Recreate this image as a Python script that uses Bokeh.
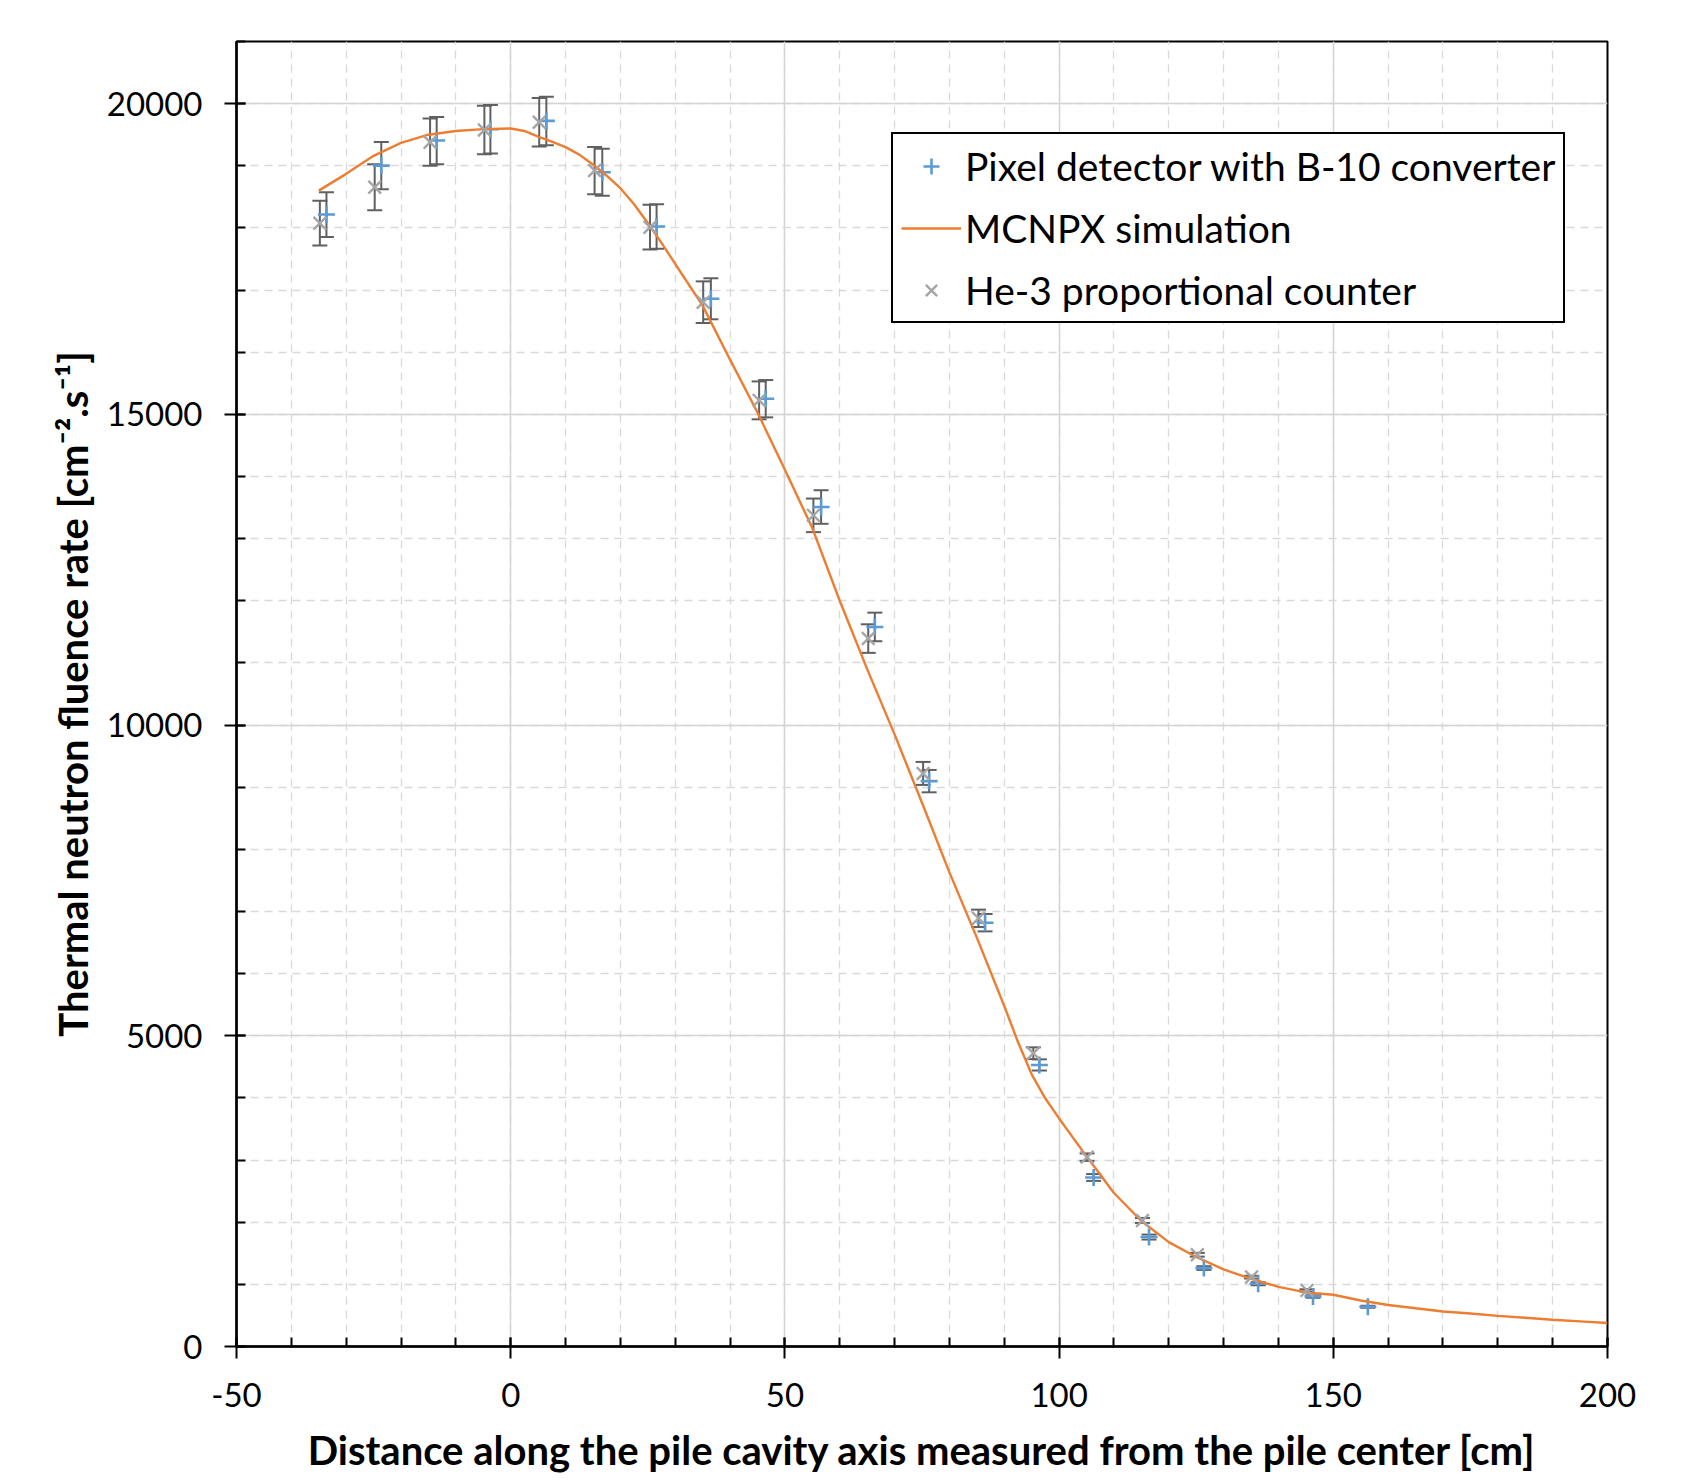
from bokeh.plotting import figure
from bokeh.models import (ColumnDataSource, Whisker, TeeHead, Legend, LegendItem,
                          SingleIntervalTicker, PrintfTickFormatter)
from bokeh.embed import file_html
from bokeh.resources import INLINE

# ---- data ----
pixel_x = [-33.6, -23.6, -13.5, -3.7, 6.5, 16.7, 26.6, 36.5, 46.5, 56.6,
           66.4, 76.3, 86.5, 96.4, 106.3, 116.4, 126.4, 136.3, 146.3, 156.3]
pixel_y = [18215, 19003, 19406, 19587, 19722, 18896, 18023, 16860, 15252, 13509,
           11579, 9098, 6820, 4531, 2720, 1761, 1262, 1010, 806, 640]
pixel_err = [360, 380, 380, 390, 390, 380, 360, 330, 300, 270,
             230, 180, 140, 90, 55, 40, 30, 25, 20, 15]

he3_x = [-34.8, -24.8, -14.7, -4.8, 5.2, 15.3, 25.4, 35.1, 45.3, 55.2,
         65.2, 75.2, 85.3, 95.3, 105.1, 115.2, 125.2, 135.1, 145.2]
he3_y = [18076, 18655, 19379, 19577, 19700, 18923, 18011, 16805, 15225, 13375,
         11392, 9222, 6890, 4719, 3047, 2028, 1476, 1117, 903]
he3_err = [360, 370, 380, 390, 390, 380, 360, 335, 305, 270,
           230, 185, 140, 95, 60, 40, 30, 22, 18]

sim_x = [-35, -30, -25, -20, -15, -10, -5, 0, 2.5, 5, 7.5, 10, 12.5, 15, 17.5, 20,
         22.5, 25, 27.5, 30, 35, 40, 45, 50, 55, 60, 65, 70, 75, 80, 85, 90, 92.5,
         95, 97.5, 100, 105, 110, 115, 120, 125, 130, 135, 140, 145, 150, 155, 160,
         165, 170, 175, 180, 185, 190, 195, 200]
sim_y = [18600, 18870, 19160, 19370, 19500, 19560, 19590, 19600, 19560, 19470,
         19390, 19300, 19180, 19020, 18840, 18640, 18380, 18080, 17760, 17420,
         16750, 15880, 15030, 14110, 13170, 12000, 10900, 9850, 8750, 7630, 6580,
         5480, 4900, 4380, 3990, 3670, 3060, 2470, 2020, 1680, 1440, 1240, 1090,
         960, 870, 833, 740, 668, 615, 564, 530, 493, 462, 431, 405, 378]

x_ticks_interval = 50
y_ticks_interval = 5000

BLUE = "#5B9BD5"
ORANGE = "#ED7D31"
GRAY = "#A5A5A5"
BAR = "#606060"
FONT = "Lato"

p = figure(width=1668, height=1476, output_backend="svg", toolbar_location=None,
           x_range=(-50, 200), y_range=(0, 21000),
           min_border_left=236, min_border_right=61, min_border_top=41, min_border_bottom=129)
p.background_fill_color = "white"
p.border_fill_color = "white"
p.outline_line_color = "black"
p.outline_line_width = 2

# axes
p.xaxis.ticker = SingleIntervalTicker(interval=x_ticks_interval, num_minor_ticks=5)
p.yaxis.ticker = SingleIntervalTicker(interval=y_ticks_interval, num_minor_ticks=5)
p.xaxis.formatter = PrintfTickFormatter(format="%d")
p.yaxis.formatter = PrintfTickFormatter(format="%d")
for ax in (p.xaxis, p.yaxis):
    ax.axis_line_width = 2.5
    ax.axis_line_color = "black"
    ax.major_tick_line_width = 2
    ax.minor_tick_line_width = 2
    ax.major_tick_line_color = "black"
    ax.minor_tick_line_color = "black"
    ax.major_tick_in = 9
    ax.major_tick_out = 12
    ax.minor_tick_in = 9
    ax.minor_tick_out = 0
    ax.major_label_text_font = FONT
    ax.major_label_text_font_size = "33px"
    ax.major_label_text_color = "black"
    ax.axis_label_text_font = FONT
    ax.axis_label_text_font_style = "bold"
    ax.axis_label_text_font_size = "40px"
    ax.axis_label_text_color = "black"
p.xaxis.major_label_standoff = 24
p.yaxis.major_label_standoff = 22
p.xaxis.axis_label = "Distance along the pile cavity axis measured from the pile center [cm]"
p.yaxis.axis_label = "Thermal neutron fluence rate [cm⁻².s⁻¹]"
p.xaxis.axis_label_standoff = 16
p.yaxis.axis_label_standoff = 7

# grids
for g in (p.xgrid, p.ygrid):
    g.grid_line_color = "#D4D4D4"
    g.grid_line_width = 1.5
    g.minor_grid_line_color = "#D9D9D9"
    g.minor_grid_line_width = 1.3
    g.minor_grid_line_dash = "8 6"

pix_src = ColumnDataSource(dict(x=pixel_x, y=pixel_y,
                                lo=[v - e for v, e in zip(pixel_y, pixel_err)],
                                hi=[v + e for v, e in zip(pixel_y, pixel_err)]))
he_src = ColumnDataSource(dict(x=he3_x, y=he3_y,
                               lo=[v - e for v, e in zip(he3_y, he3_err)],
                               hi=[v + e for v, e in zip(he3_y, he3_err)]))

def whisk(src):
    w = Whisker(source=src, base="x", lower="lo", upper="hi", dimension="height",
                line_color=BAR, line_width=2,
                upper_head=TeeHead(size=15, line_color=BAR, line_width=2),
                lower_head=TeeHead(size=15, line_color=BAR, line_width=2))
    p.add_layout(w)

whisk(pix_src)
r_pix = p.scatter("x", "y", source=pix_src, marker="cross", size=17,
                  line_color=BLUE, line_width=2.6)
r_sim = p.line(sim_x, sim_y, line_color=ORANGE, line_width=2.4)
whisk(he_src)
r_he = p.scatter("x", "y", source=he_src, marker="x", size=18,
                 line_color=GRAY, line_width=2.4)

legend = Legend(items=[LegendItem(label="Pixel detector with B-10 converter", renderers=[r_pix]),
                       LegendItem(label="MCNPX simulation", renderers=[r_sim]),
                       LegendItem(label="He-3 proportional counter", renderers=[r_he])],
                location=(655, 1023))
legend.border_line_color = "black"
legend.border_line_width = 2
legend.border_line_alpha = 1
legend.background_fill_color = "white"
legend.background_fill_alpha = 1
legend.label_text_font = FONT
legend.label_text_font_size = "39px"
legend.label_text_color = "black"
legend.glyph_width = 60
legend.glyph_height = 40
legend.label_height = 47
legend.spacing = 15
legend.padding = 8
legend.label_standoff = 4
legend.margin = 0
p.add_layout(legend)

open("out.html", "w").write(file_html(p, INLINE))
